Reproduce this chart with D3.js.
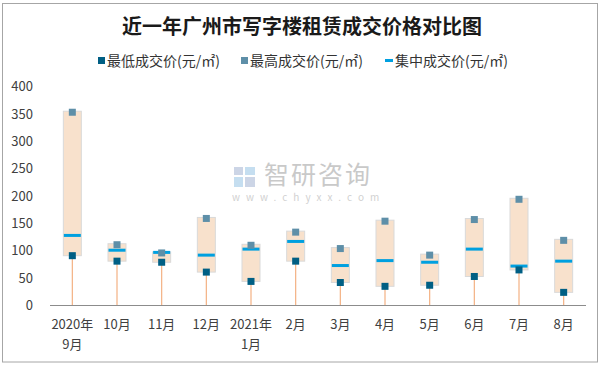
<!DOCTYPE html>
<html><head><meta charset="utf-8">
<script src="https://cdn.jsdelivr.net/npm/d3@7"></script>
<style>body{margin:0;background:#fff}svg{display:block}</style>
</head><body>
<svg id="chart" width="605" height="367"></svg>
<script>
const categories = ["2020年\n9月","10月","11月","12月","2021年\n1月","2月","3月","4月","5月","6月","7月","8月"];
const lowPrice  = [91, 81, 79, 61, 44, 81, 42, 35, 37, 53, 65, 24];
const highPrice = [353, 111, 96, 159, 110, 134, 104, 154, 92, 157, 194, 119];
const midPrice  = [128, 101, 97, 92, 103, 117, 73, 82, 79, 103, 72, 81];
const yTicks = [0, 50, 100, 150, 200, 250, 300, 350, 400];
const legendLabels = ["最低成交价(元/㎡)", "最高成交价(元/㎡)", "集中成交价(元/㎡)"];
const titleText = "近一年广州市写字楼租赁成交价格对比图";

const font = "'Noto Sans CJK SC', 'Noto Sans', sans-serif";
const svg = d3.select("#chart");
const cLow = "#005f84", cHigh = "#5e8fa8", cMid = "#00a0e0";

// outer border
svg.append("rect").attr("x", 2.5).attr("y", 3.5).attr("width", 595).attr("height", 358.5)
  .attr("fill", "#fff").attr("stroke", "#a6a6a6").attr("stroke-width", 1);

const x = d3.scaleBand().domain(categories).range([50, 586]);
const y = d3.scaleLinear().domain([0, 400]).range([305.5, 86.5]);

// watermark
const wm = svg.append("g").attr("opacity", 0.45);
wm.append("rect").attr("x", 234).attr("y", 167).attr("width", 9).attr("height", 8).attr("fill", "#8fa3c8");
wm.append("rect").attr("x", 245).attr("y", 167).attr("width", 10).attr("height", 8).attr("fill", "#7fb8e0");
wm.append("rect").attr("x", 234).attr("y", 177).attr("width", 9).attr("height", 10).attr("fill", "#7fb8e0");
wm.append("rect").attr("x", 245).attr("y", 177).attr("width", 10).attr("height", 10).attr("fill", "#8fa3c8");
wm.append("text").attr("x", 264).attr("y", 184).attr("font-family", font).attr("font-size", 25)
  .attr("fill", "#888").attr("letter-spacing", 2).text("智研咨询");
wm.append("text").attr("x", 232).attr("y", 201).attr("font-family", font).attr("font-size", 10)
  .attr("fill", "#999").attr("letter-spacing", 6).text("www.chyxx.com");

// title
svg.append("text").attr("x", 302).attr("y", 34).attr("text-anchor", "middle")
  .attr("font-family", font).attr("font-weight", "bold").attr("font-size", 20)
  .attr("fill", "#1a1a1a").text(titleText);

// legend
const lg = svg.append("g").attr("font-family", font).attr("font-size", 14).attr("fill", "#333");
const legX = [98, 241, 385];
lg.append("rect").attr("x", legX[0]).attr("y", 57).attr("width", 7).attr("height", 7).attr("fill", cLow);
lg.append("rect").attr("x", legX[1]).attr("y", 57).attr("width", 7).attr("height", 7).attr("fill", cHigh);
lg.append("rect").attr("x", legX[2]).attr("y", 59).attr("width", 8).attr("height", 3).attr("fill", cMid);
legendLabels.forEach((t, i) => {
  lg.append("text").attr("x", legX[i] + (i === 2 ? 10 : 9)).attr("y", 65.5).text(t);
});

// y axis labels
const yAxis = d3.axisLeft(y).tickValues(yTicks).tickSize(0).tickPadding(0);
const ya = svg.append("g").attr("transform", "translate(33,0)").call(yAxis);
ya.select(".domain").remove();
ya.selectAll("text").attr("font-family", font).attr("font-size", 13).attr("fill", "#404040");

// whiskers
const bw = 18;
categories.forEach((c, i) => {
  const cx = x(c) + x.bandwidth() / 2;
  svg.append("line").attr("x1", cx).attr("x2", cx).attr("y1", y(lowPrice[i])).attr("y2", y(0))
    .attr("stroke", "#f4b183").attr("stroke-width", 1.2);
});

// x axis line
svg.append("line").attr("x1", 50).attr("x2", 586).attr("y1", y(0)).attr("y2", y(0))
  .attr("stroke", "#8c8c8c").attr("stroke-width", 1);

// boxes and markers
categories.forEach((c, i) => {
  const cx = x(c) + x.bandwidth() / 2;
  svg.append("rect").attr("x", cx - bw / 2).attr("y", y(highPrice[i]) - 1)
    .attr("width", bw).attr("height", y(lowPrice[i]) - y(highPrice[i]) + 1)
    .attr("fill", "#f8e1cc").attr("stroke", "#d9d9d9").attr("stroke-width", 1);
  svg.append("rect").attr("x", cx - 8.5).attr("y", y(midPrice[i]) - 1.5).attr("width", 17).attr("height", 3)
    .attr("fill", cMid);
  svg.append("rect").attr("x", cx - 3.5).attr("y", y(highPrice[i]) - 3.5).attr("width", 7).attr("height", 7)
    .attr("fill", cHigh);
  svg.append("rect").attr("x", cx - 3.5).attr("y", y(lowPrice[i]) - 3.5).attr("width", 7).attr("height", 7)
    .attr("fill", cLow);
});

// x labels
const xl = svg.append("g").attr("font-family", font).attr("font-size", 13).attr("fill", "#404040")
  .attr("text-anchor", "middle");
categories.forEach(c => {
  const cx = x(c) + x.bandwidth() / 2;
  c.split("\n").forEach((line, j) => {
    xl.append("text").attr("x", cx).attr("y", 329 + j * 20).text(line);
  });
});
</script>
</body></html>
